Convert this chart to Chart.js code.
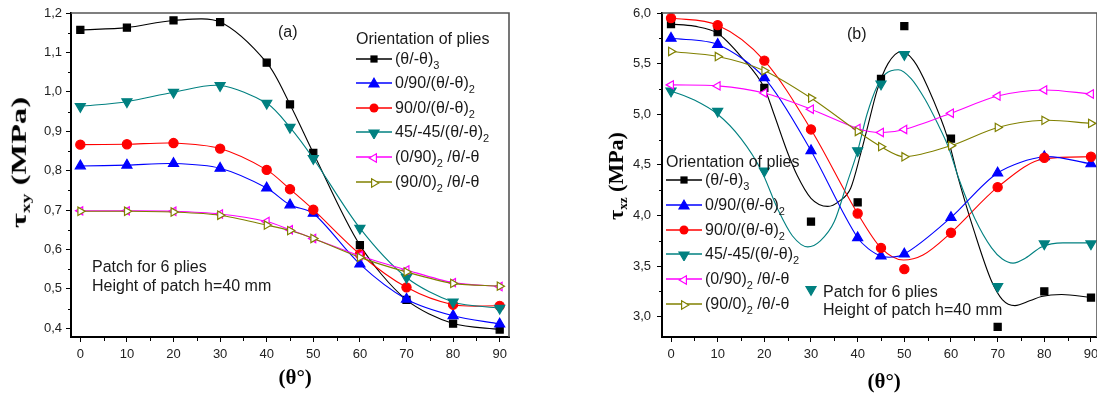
<!DOCTYPE html>
<html><head><meta charset="utf-8">
<script src="https://cdn.jsdelivr.net/npm/chart.js@4.4.1/dist/chart.umd.min.js"></script>
<style>
html,body{margin:0;padding:0;background:#fff;}
body{width:1097px;height:396px;overflow:hidden;position:relative;font-family:"Liberation Sans",Arial,sans-serif;}
.wrap{position:absolute;top:0;height:396px;}
.t{position:absolute;white-space:nowrap;color:#1a1a1a;font-size:16px;line-height:16px;}
.t sub{font-size:11px;line-height:0;vertical-align:baseline;position:relative;top:5px;}
.ax{position:absolute;white-space:nowrap;color:#000;font-family:"Liberation Serif","Times New Roman",serif;font-weight:bold;line-height:1;}
.ax sub{font-size:0.6em;line-height:0;vertical-align:baseline;position:relative;top:0.3em;}
.leg{position:absolute;white-space:nowrap;font-size:16px;line-height:16px;color:#1a1a1a;}
.leg svg{position:absolute;left:0;top:1px;}
.leg span{position:absolute;top:0;}
.leg span sub{font-size:11px;line-height:0;vertical-align:baseline;position:relative;top:5px;}
</style></head><body>
<div class="wrap" style="left:0;width:540px;"><canvas id="ca"></canvas></div>
<div class="wrap" style="left:556px;width:541px;"><canvas id="cb"></canvas></div>
<div id="overlay"></div>
<script>
// ---------- data ----------
const theta = [0, 10, 20, 30, 40, 45, 50, 60, 70, 80, 90];
const xTicks = [0, 10, 20, 30, 40, 50, 60, 70, 80, 90];
const xMinorTicks = [5, 15, 25, 35, 45, 55, 65, 75, 85];
const yTicksA = [0.4, 0.5, 0.6, 0.7, 0.8, 0.9, 1.0, 1.1, 1.2];
const yMinorTicksA = [0.45, 0.55, 0.65, 0.75, 0.85, 0.95, 1.05, 1.15];
const yTicksB = [3.0, 3.5, 4.0, 4.5, 5.0, 5.5, 6.0];
const yMinorTicksB = [3.25, 3.75, 4.25, 4.75, 5.25, 5.75];

const seriesLabels = [
  '(θ/-θ)<sub>3</sub>',
  '0/90/(θ/-θ)<sub>2</sub>',
  '90/0/(θ/-θ)<sub>2</sub>',
  '45/-45/(θ/-θ)<sub>2</sub>',
  '(0/90)<sub>2</sub> /θ/-θ',
  '(90/0)<sub>2</sub> /θ/-θ'
];

// (a) tau_xy (MPa)
const aTheta3      = [1.157, 1.163, 1.181, 1.177, 1.074, 0.968, 0.845, 0.611, 0.472, 0.412, 0.397];
const a0_90        = [0.812, 0.814, 0.818, 0.806, 0.756, 0.713, 0.692, 0.563, 0.474, 0.432, 0.411];
const a90_0        = [0.866, 0.867, 0.870, 0.856, 0.802, 0.753, 0.701, 0.588, 0.504, 0.460, 0.457];
const a45_45       = [0.963, 0.975, 0.999, 1.016, 0.971, 0.910, 0.831, 0.654, 0.529, 0.467, 0.451];
const a0_90sq      = [0.698, 0.698, 0.697, 0.690, 0.671, 0.650, 0.628, 0.584, 0.548, 0.516, 0.506];
const a90_0sq      = [0.697, 0.697, 0.695, 0.687, 0.662, 0.648, 0.628, 0.580, 0.543, 0.514, 0.507];

// (b) tau_xz (MPa), markers
const bTheta3      = [5.89, 5.81, 5.26, 3.94, 4.13, 5.35, 5.87, 4.76, 2.90, 3.25, 3.19];
const b0_90        = [5.75, 5.69, 5.36, 4.64, 3.78, 3.60, 3.62, 3.98, 4.42, 4.58, 4.51];
const b90_0        = [5.95, 5.88, 5.53, 4.85, 4.02, 3.68, 3.47, 3.83, 4.28, 4.57, 4.58];
const b45_45       = [5.23, 5.03, 4.44, 3.27, 4.64, 5.30, 5.59, null, 3.30, 3.72, 3.72];
const b0_90sq      = [5.29, 5.28, 5.21, 5.05, 4.86, 4.82, 4.85, 5.01, 5.18, 5.24, 5.20];
const b90_0sq      = [5.62, 5.57, 5.43, 5.16, 4.83, 4.68, 4.58, 4.69, 4.87, 4.94, 4.91];

// (b) fitted curves
const bFitTheta3X = [0, 5, 10, 15, 20, 22, 25, 27, 30, 33.6, 36, 38.5, 40.7, 42, 44.2, 46.5, 49.4, 52, 55, 59.4, 61.5, 65, 68.7, 71, 73.7, 77, 79.4, 83.7, 90];
const bFitTheta3Y = [5.89, 5.87, 5.80, 5.57, 5.26, 5.01, 4.62, 4.40, 4.17, 4.09, 4.14, 4.27, 4.62, 4.85, 5.24, 5.50, 5.62, 5.53, 5.27, 4.75, 4.38, 3.84, 3.35, 3.17, 3.11, 3.16, 3.20, 3.22, 3.19];
const bFit45X = [0, 5, 10, 15, 19.3, 23, 26, 29.3, 32, 35, 37.8, 40, 42, 44.2, 46, 48.7, 51.5, 54.4, 57, 59.4, 61.7, 65.1, 68.7, 71, 73.3, 76, 79.4, 84, 90];
const bFit45Y = [5.23, 5.14, 5.00, 4.76, 4.45, 4.05, 3.80, 3.69, 3.75, 3.94, 4.33, 4.64, 5.00, 5.28, 5.40, 5.44, 5.35, 5.15, 4.92, 4.68, 4.36, 3.97, 3.68, 3.57, 3.53, 3.58, 3.69, 3.73, 3.73];
const bFit90_0X = [0, 10, 20, 30, 40, 45, 49.8, 54, 60, 70, 80, 90];
const bFit90_0Y = [5.95, 5.88, 5.53, 4.85, 4.02, 3.68, 3.56, 3.61, 3.83, 4.28, 4.56, 4.58];

// ---------- styles ----------
const styles = [
  {color:'#000000', shape:'rect', rot:0, r:5, fill:'#000000'},
  {color:'#0000ff', shape:'triangle', rot:0, r:5.8, fill:'#0000ff'},
  {color:'#ff0000', shape:'circle', rot:0, r:4.6, fill:'#ff0000'},
  {color:'#008080', shape:'triangle', rot:180, r:5.8, fill:'#008080'},
  {color:'#ff00ff', shape:'triangle', rot:270, r:4.8, fill:'#ffffff'},
  {color:'#808000', shape:'triangle', rot:90, r:4.8, fill:'#ffffff'}
];

function pts(xs, ys) { return xs.map((x, i) => ({x: x, y: ys[i]})); }

function markerLine(i, values, withLine) {
  const s = styles[i];
  return {
    data: pts(theta, values),
    showLine: withLine,
    borderColor: s.color, borderWidth: 1.1,
    tension: 0.3,
    pointStyle: s.shape, pointRotation: s.rot, pointRadius: s.r,
    pointBackgroundColor: s.fill, pointBorderColor: s.color, pointBorderWidth: 1.2,
    order: 10 - i
  };
}
function curveOnly(i, xs, ys) {
  const s = styles[i];
  return {
    data: pts(xs, ys), showLine: true, borderColor: s.color, borderWidth: 1.1,
    cubicInterpolationMode: 'monotone', pointRadius: 0, order: 20 - i
  };
}

const fmt = v => v.toFixed(1).replace('.', ',');

const framePlugin = {
  id: 'frame',
  afterDatasetsDraw(chart, args, opts) {
    const ctx = chart.ctx, a = chart.chartArea, x = chart.scales.x, y = chart.scales.y;
    ctx.save();
    ctx.strokeStyle = '#555'; ctx.lineWidth = 1.6;
    ctx.beginPath(); ctx.moveTo(a.left, a.top); ctx.lineTo(a.right, a.top); ctx.lineTo(a.right, a.bottom); ctx.stroke();
    ctx.strokeStyle = '#000'; ctx.lineWidth = 1;
    opts.xMinor.forEach(v => {
      const px = Math.round(x.getPixelForValue(v)) + 0.5;
      ctx.beginPath(); ctx.moveTo(px, a.bottom); ctx.lineTo(px, a.bottom + 4); ctx.stroke();
    });
    opts.yMinor.forEach(v => {
      const py = Math.round(y.getPixelForValue(v)) + 0.5;
      ctx.beginPath(); ctx.moveTo(a.left, py); ctx.lineTo(a.left - 3, py); ctx.stroke();
    });
    ctx.restore();
  }
};

function buildChart(id, spec) {
  return new Chart(document.getElementById(id), {
    type: 'scatter',
    data: {datasets: spec.datasets},
    options: {
      responsive: true, maintainAspectRatio: false, animation: false,
      layout: {autoPadding: false, padding: {top: 13, right: spec.padRight, bottom: 0, left: 0}},
      plugins: {legend: {display: false}, tooltip: {enabled: false},
                frame: {xMinor: xMinorTicks, yMinor: spec.yMinor}},
      scales: {
        x: {
          type: 'linear', min: spec.xMin, max: spec.xMax,
          afterBuildTicks: s => { s.ticks = xTicks.map(v => ({value: v})); },
          afterFit: s => { s.height = 59; s.paddingLeft = 0; s.paddingRight = 0; },
          border: {display: true, color: '#000', width: 2},
          grid: {drawOnChartArea: false, drawTicks: true, tickLength: 5, color: '#000', lineWidth: 1},
          ticks: {autoSkip: false, maxRotation: 0, padding: 5, color: '#222',
                  font: {family: 'Liberation Sans', size: 13}, callback: v => String(v)}
        },
        y: {
          type: 'linear', min: spec.yMin, max: spec.yMax,
          afterBuildTicks: s => { s.ticks = spec.yTicks.map(v => ({value: v})); },
          afterFit: s => { s.width = spec.yWidth; s.paddingTop = 0; s.paddingBottom = 0; },
          border: {display: true, color: '#000', width: 2},
          grid: {drawOnChartArea: false, drawTicks: true, tickLength: 5, color: '#000', lineWidth: 1},
          ticks: {autoSkip: false, padding: spec.yPad, color: '#222',
                  font: {family: 'Liberation Sans', size: 13}, callback: v => fmt(v)}
        }
      }
    },
    plugins: [framePlugin]
  });
}

buildChart('ca', {
  datasets: [aTheta3, a0_90, a90_0, a45_45, a0_90sq, a90_0sq].map((v, i) => markerLine(i, v, true)),
  padRight: 31, yWidth: 71, yPad: 4, xMin: -2, xMax: 92,
  yMin: 0.378, yMax: 1.2, yTicks: yTicksA, yMinor: yMinorTicksA
});

buildChart('cb', {
  datasets: [
    markerLine(0, bTheta3, false),
    markerLine(1, b0_90, true),
    markerLine(2, b90_0, false),
    markerLine(3, b45_45, false),
    markerLine(4, b0_90sq, true),
    markerLine(5, b90_0sq, true),
    curveOnly(0, bFitTheta3X, bFitTheta3Y),
    curveOnly(2, bFit90_0X, bFit90_0Y),
    curveOnly(3, bFit45X, bFit45Y)
  ],
  padRight: 0, yWidth: 106, yPad: 6, xMin: -1.93, xMax: 91.29,
  yMin: 2.8, yMax: 6.0, yTicks: yTicksB, yMinor: yMinorTicksB
});

// ---------- legends & texts ----------
function markerSVG(s) {
  const cx = 18, cy = 7;
  let shape = '';
  if (s.shape === 'rect') shape = `<rect x="${cx-3.6}" y="${cy-3.6}" width="7.2" height="7.2" fill="${s.fill}"/>`;
  else if (s.shape === 'circle') shape = `<circle cx="${cx}" cy="${cy}" r="4.5" fill="${s.fill}"/>`;
  else {
    const r = s.r, p = [];
    for (let k = 0; k < 3; k++) {
      const ang = (s.rot + k * 120) * Math.PI / 180;
      p.push((cx + Math.sin(ang) * r).toFixed(2) + ',' + (cy + 1 - Math.cos(ang) * r).toFixed(2));
    }
    shape = `<polygon points="${p.join(' ')}" fill="${s.fill}" stroke="${s.color}" stroke-width="1.2"/>`;
  }
  return `<svg width="37" height="14" viewBox="0 0 37 14"><line x1="0" y1="7" x2="36" y2="7" stroke="${s.color}" stroke-width="1.4"/>${shape}</svg>`;
}

const overlay = document.getElementById('overlay');
function addText(html, left, centerY) {
  const d = document.createElement('div');
  d.className = 't';
  d.innerHTML = html;
  d.style.left = left + 'px';
  d.style.top = (centerY - 8) + 'px';
  overlay.appendChild(d);
  return d;
}
function addLegend(x, titleY, firstY, step) {
  addText('Orientation of plies', x, titleY);
  seriesLabels.forEach((lab, i) => {
    const d = document.createElement('div');
    d.className = 'leg';
    d.style.left = x + 'px';
    d.style.top = (firstY + i * step - 8) + 'px';
    d.innerHTML = markerSVG(styles[i]) + `<span style="left:39px">${lab}</span>`;
    overlay.appendChild(d);
  });
}
addLegend(356, 39, 58.5, 24.6);
addLegend(666, 162, 180, 24.8);

addText('(a)', 278, 32);
addText('(b)', 847, 34);
addText('Patch for 6 plies', 92, 267);
addText('Height of patch h=40 mm', 92, 286);
addText('Patch for 6 plies', 823, 292);
addText('Height of patch h=40 mm', 823, 310);

function axisTitle(html, cx, cy, size, rotate, stretch) {
  const d = document.createElement('div');
  d.className = 'ax';
  d.style.fontSize = size + 'px';
  d.innerHTML = html;
  overlay.appendChild(d);
  const w = d.offsetWidth, h = d.offsetHeight;
  d.style.left = (cx - w / 2) + 'px';
  d.style.top = (cy - h / 2) + 'px';
  if (rotate) d.style.transform = `rotate(-90deg) scaleX(${stretch})`;
}
axisTitle('(θ°)', 295, 377, 21, false, 1);
axisTitle('(θ°)', 884, 381, 21, false, 1);
axisTitle('τ<sub>xy</sub> (MPa)', 19, 162, 21, true, 1.55);
axisTitle('τ<sub>xz</sub> (MPa)', 616, 176, 22, true, 1);
</script>
</body></html>
